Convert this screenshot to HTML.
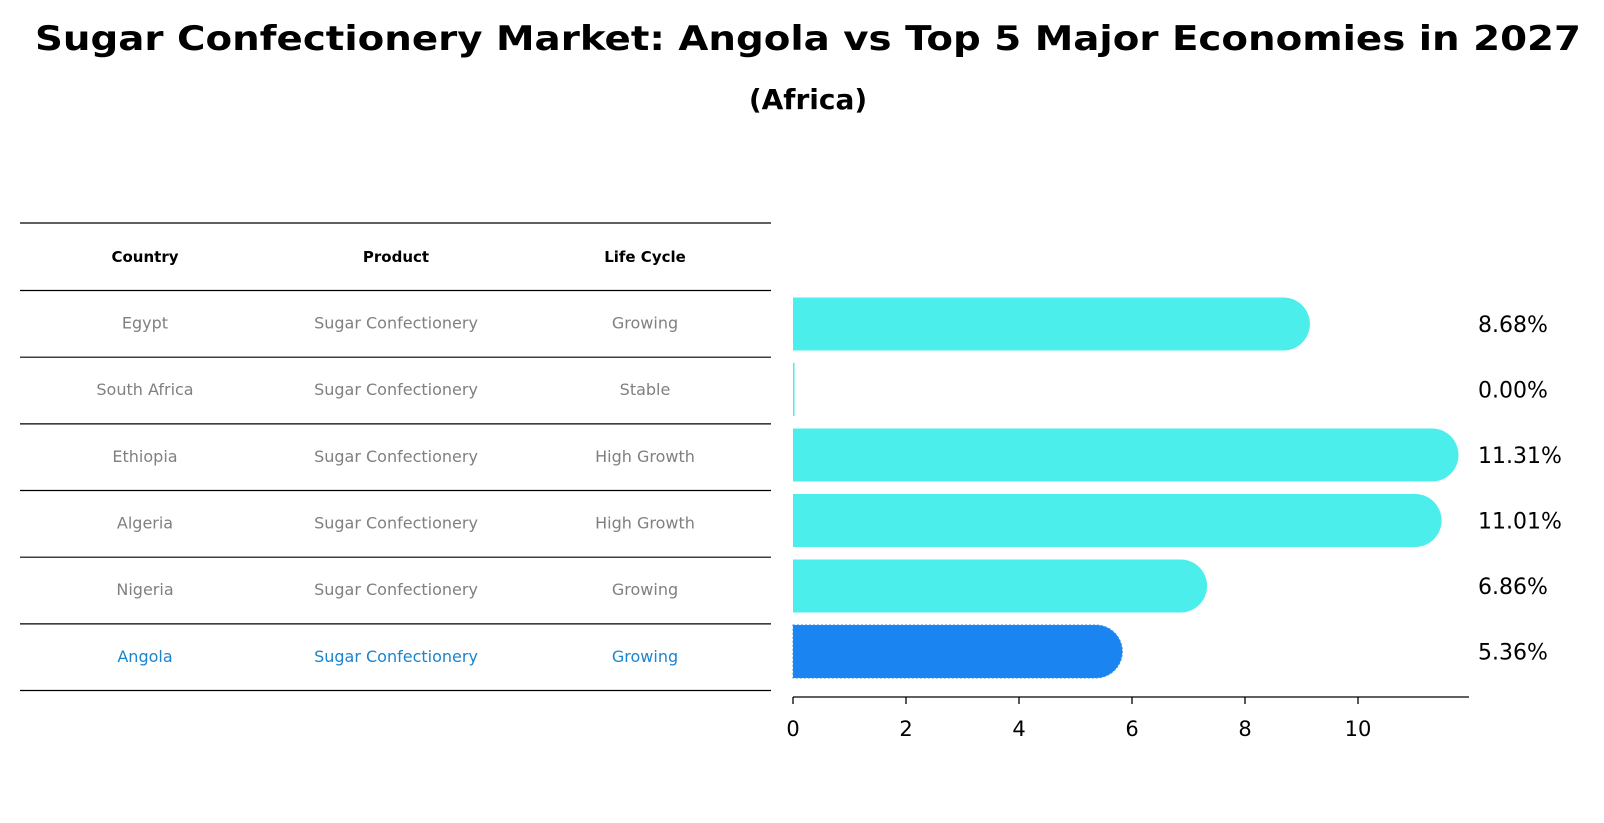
<!DOCTYPE html>
<html><head><meta charset="utf-8"><style>
html,body{margin:0;padding:0;background:#fff}
svg{display:block;font-family:"DejaVu Sans","Liberation Sans",sans-serif}
</style></head><body>
<svg id="c" width="1604" height="823" viewBox="0 0 1604 823" xmlns="http://www.w3.org/2000/svg">
<text x="808" y="50" text-anchor="middle" font-size="34" font-weight="bold" textLength="1546" lengthAdjust="spacingAndGlyphs">Sugar Confectionery Market: Angola vs Top 5 Major Economies in 2027</text>
<text x="808" y="109" text-anchor="middle" font-size="28" font-weight="bold">(Africa)</text>
<g id="table"></g>
<g id="bars"></g>
</svg>
<script>
const countries=["Egypt","South Africa","Ethiopia","Algeria","Nigeria","Angola"];
const products=["Sugar Confectionery","Sugar Confectionery","Sugar Confectionery","Sugar Confectionery","Sugar Confectionery","Sugar Confectionery"];
const lifeCycles=["Growing","Stable","High Growth","High Growth","Growing","Growing"];
const values=[8.68,0.00,11.31,11.01,6.86,5.36];
const valueLabels=["8.68%","0.00%","11.31%","11.01%","6.86%","5.36%"];
const ticks=[0,2,4,6,8,10];
const headers=["Country","Product","Life Cycle"];

const NS="http://www.w3.org/2000/svg";
function mk(tag,attrs,parent,txt){const e=document.createElementNS(NS,tag);for(const k in attrs)e.setAttribute(k,attrs[k]);if(txt!==undefined)e.textContent=txt;parent.appendChild(e);return e;}
const x0=793,pxPer=56.5;
const xs=v=>x0+v*pxPer;
const rowTop0=290.5,rowH=66.6,barH=53;
const yc=i=>324+i*65.5;

// table
const tg=document.getElementById('table');
const colX=[145,396,645];
const lineYs=[223,290.5];
for(let i=1;i<=countries.length;i++)lineYs.push(290.5+i*66.67);
lineYs.forEach((y,i)=>{const l=mk('line',{x1:20,x2:771,y1:y,y2:y,stroke:'#000','stroke-width':1.2},tg);

});
headers.forEach((h,j)=>{const t=mk('text',{x:colX[j],y:262,'text-anchor':'middle','font-size':15,'font-weight':'bold'},tg,h);

});
countries.forEach((c,i)=>{
  const y=290.5+i*66.67+38;
  const col=c==="Angola"?'#1a84d0':'#808080';
  [c,products[i],lifeCycles[i]].forEach((v,j)=>{const t=mk('text',{x:colX[j],y:y,'text-anchor':'middle','font-size':16,fill:col},tg,v);
  
  });
});

// bars
const bg=document.getElementById('bars');
values.forEach((v,i)=>{
  const c=yc(i),top=c-barH/2,x1=xs(v),r=barH/2;
  const angola=countries[i]==="Angola";
  const fill=angola?'#1a84f0':'#4beeea';
  let p;
  if(v>0){
    p=mk('path',{d:`M${x0},${top} H${x1} A${r},${r} 0 0 1 ${x1},${top+barH} H${x0} Z`,fill:fill},bg);
    if(angola){p.setAttribute('stroke','#3a8ee8');p.setAttribute('stroke-dasharray','2 2');}
  } else {
    p=mk('rect',{x:x0,y:top,width:1.5,height:barH,fill:fill},bg);
  }
  
  
  const t=mk('text',{x:1478,y:c+8,'font-size':22},bg,valueLabels[i]);
  
  
});
const ax=mk('line',{x1:x0,x2:1469,y1:697,y2:697,stroke:'#000','stroke-width':1.3},bg);


ticks.forEach(tv=>{
  const tk=mk('line',{x1:xs(tv),x2:xs(tv),y1:697,y2:704,stroke:'#000','stroke-width':1.3},bg);
  
  
  const t=mk('text',{x:xs(tv),y:736,'text-anchor':'middle','font-size':21},bg,String(tv));
  
  
});
</script>
</body></html>
